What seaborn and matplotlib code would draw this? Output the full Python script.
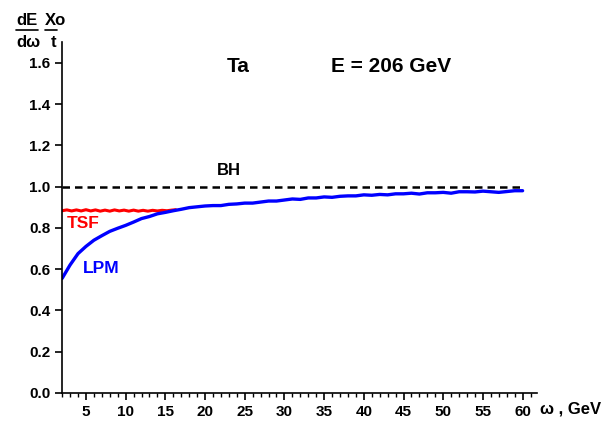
import numpy as np
import pandas as pd
import matplotlib
matplotlib.use('Agg')
import matplotlib.pyplot as plt
from matplotlib.lines import Line2D
from matplotlib.ticker import MultipleLocator, FormatStrFormatter
import seaborn as sns

# photon energy omega, GeV
omega_lpm = list(range(2, 61))
lpm = [0.555, 0.62, 0.675, 0.71, 0.74, 0.762, 0.783, 0.798, 0.812, 0.828,
       0.845, 0.855, 0.868, 0.875, 0.883, 0.89, 0.898, 0.902, 0.906, 0.908,
       0.908, 0.914, 0.916, 0.92, 0.92, 0.925, 0.93, 0.93, 0.935, 0.94,
       0.938, 0.945, 0.945, 0.95, 0.948, 0.953, 0.955, 0.955, 0.96, 0.958,
       0.962, 0.96, 0.965, 0.965, 0.968, 0.964, 0.97, 0.97, 0.972, 0.968,
       0.975, 0.975, 0.974, 0.978, 0.975, 0.972, 0.976, 0.98, 0.98]

omega_tsf = [2, 2.6, 3.2, 3.8, 4.4, 5.0, 5.6, 6.2, 6.8, 7.4, 8.0, 8.6, 9.2,
             9.8, 10.4, 11.0, 11.6, 12.2, 12.8, 13.4, 14.0, 14.6, 15.2, 15.8, 16.3]
tsf = [0.883, 0.887, 0.882, 0.887, 0.882, 0.888, 0.882, 0.887, 0.881, 0.886,
       0.881, 0.887, 0.882, 0.886, 0.881, 0.886, 0.881, 0.885, 0.881, 0.885,
       0.882, 0.885, 0.883, 0.886, 0.888]

omega_bh = [2, 60]
bh = [1.0, 1.0]

sns.set_style('ticks')
plt.rcParams['font.family'] = ['Liberation Sans', 'DejaVu Sans']
plt.rcParams['font.weight'] = 'bold'
plt.rcParams['text.color'] = 'black'
plt.rcParams['xtick.color'] = 'black'
plt.rcParams['ytick.color'] = 'black'
plt.rcParams['axes.edgecolor'] = 'black'

df_lpm = pd.DataFrame({'omega': omega_lpm, 'ratio': lpm})
df_tsf = pd.DataFrame({'omega': omega_tsf, 'ratio': tsf})
df_bh = pd.DataFrame({'omega': omega_bh, 'ratio': bh})

fig = plt.figure(figsize=(6.15, 4.22), dpi=100)
ax = fig.add_axes([0.101, 0.069, 0.772, 0.831])

sns.lineplot(data=df_bh, x='omega', y='ratio', color='black', lw=1.8,
             linestyle=(0, (3, 2)), ax=ax)
sns.lineplot(data=df_tsf, x='omega', y='ratio', color='#ff0000', lw=2.2, ax=ax)
sns.lineplot(data=df_lpm, x='omega', y='ratio', color='#0000ff', lw=2.4, ax=ax)

ax.set_xlim(2, 61.8)
ax.set_ylim(0, 1.7)
ax.xaxis.set_minor_locator(MultipleLocator(1))
ax.yaxis.set_major_formatter(FormatStrFormatter('%.1f'))
ax.set_xticks(np.arange(5, 61, 5))
ax.set_yticks(np.arange(0, 1.61, 0.2))
ax.tick_params(axis='both', which='major', labelsize=11, length=5, width=1.2, direction='out')
ax.tick_params(axis='x', which='minor', length=3, width=1.0, direction='out')
for lab in ax.get_xticklabels() + ax.get_yticklabels():
    lab.set_fontweight('bold')
ax.set_xlabel('')
ax.set_ylabel('')
sns.despine(ax=ax)
for s in ['left', 'bottom']:
    ax.spines[s].set_linewidth(1.2)

# annotations
ax.text(24.2, 1.58, 'Ta', fontsize=15, fontweight='bold', ha='center', va='center')
ax.text(43.4, 1.58, 'E = 206 GeV', fontsize=15, fontweight='bold', ha='center', va='center')
ax.text(23, 1.077, 'BH', fontsize=12, fontweight='bold', ha='center', va='center')
ax.text(4.6, 0.82, 'TSF', fontsize=12.5, fontweight='bold', color='#ff0000', ha='center', va='center')
ax.text(6.9, 0.605, 'LPM', fontsize=12.5, fontweight='bold', color='#0000ff', ha='center', va='center')

# axis titles
fig.text(0.878, 0.031, '\u03c9 , GeV', fontsize=12, fontweight='bold', ha='left', va='center')
fig.text(0.026, 0.952, 'dE', fontsize=12, fontweight='bold', ha='left', va='center')
fig.text(0.073, 0.952, 'Xo', fontsize=12, fontweight='bold', ha='left', va='center')
fig.text(0.026, 0.9, 'd\u03c9', fontsize=12, fontweight='bold', ha='left', va='center')
fig.text(0.083, 0.9, 't', fontsize=12, fontweight='bold', ha='left', va='center')
fig.add_artist(Line2D([0.026, 0.062], [0.929, 0.929], color='black', lw=1.2, transform=fig.transFigure))
fig.add_artist(Line2D([0.073, 0.092], [0.929, 0.929], color='black', lw=1.2, transform=fig.transFigure))

fig.savefig('out.png', dpi=100)
